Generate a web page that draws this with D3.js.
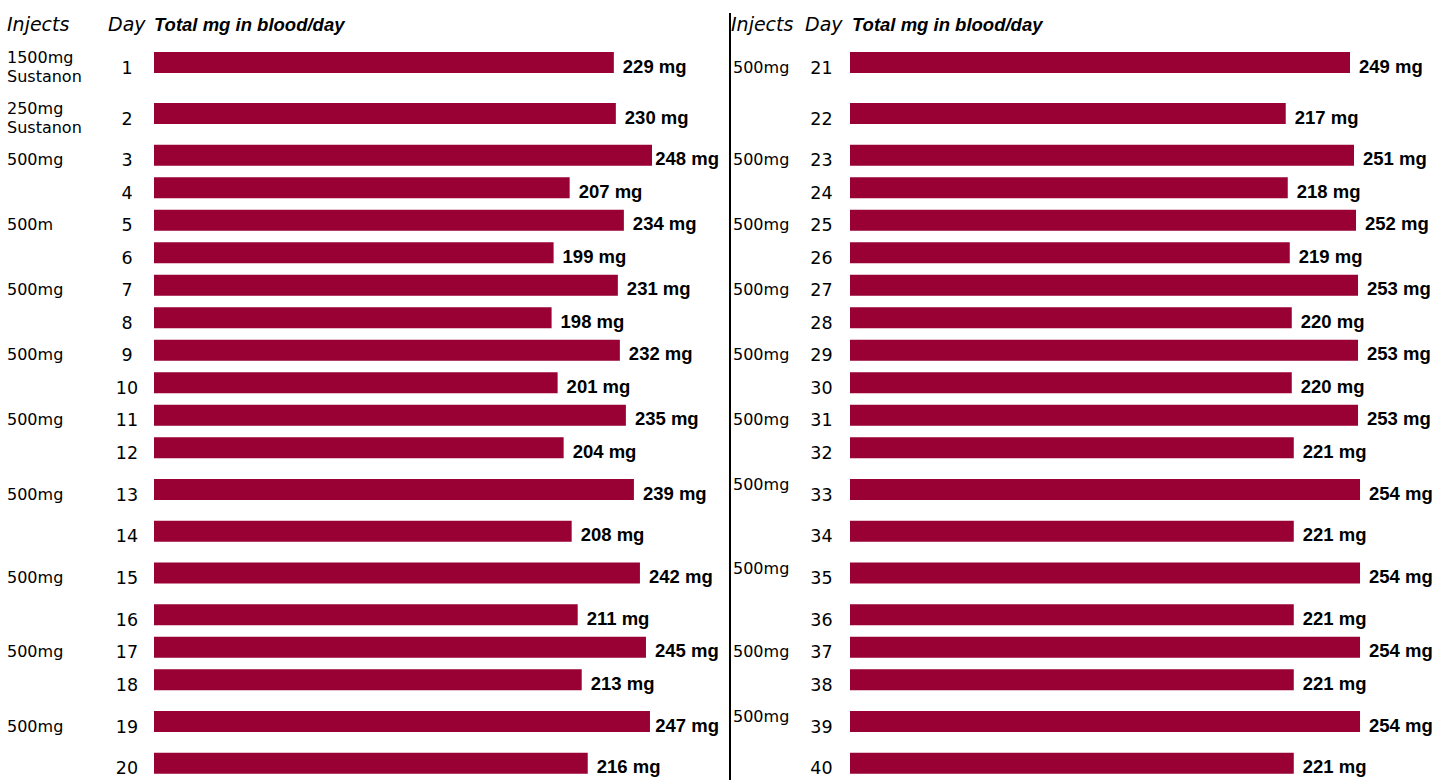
<!DOCTYPE html>
<html>
<head>
<meta charset="utf-8">
<script src="https://cdn.jsdelivr.net/npm/d3@7"></script>
<style>
  body { margin: 0; background: #fff; }
  svg { display: block; }
</style>
</head>
<body>
<div id="chart"></div>
<script>
const width = 1450;
const height = 780;

// Day numbers, one per bar
const days = [
  1, 2, 3, 4, 5, 6, 7, 8, 9, 10, 11, 12, 13, 14, 15, 16, 17, 18, 19, 20,
  21, 22, 23, 24, 25, 26, 27, 28, 29, 30, 31, 32, 33, 34, 35, 36, 37, 38, 39, 40
];

// Total mg in blood per day
const totals = [
  229, 230, 248, 207, 234, 199, 231, 198, 232, 201, 235, 204, 239, 208, 242, 211, 245, 213, 247, 216,
  249, 217, 251, 218, 252, 219, 253, 220, 253, 220, 253, 221, 254, 221, 254, 221, 254, 221, 254, 221
];

// Injection notes per day (each entry is a list of text lines)
const injects = [
  ["1500mg", "Sustanon"], ["250mg", "Sustanon"], ["500mg"], [], ["500m"], [], ["500mg"], [], ["500mg"], [],
  ["500mg"], [], ["500mg"], [], ["500mg"], [], ["500mg"], [], ["500mg"], [],
  ["500mg"], [], ["500mg"], [], ["500mg"], [], ["500mg"], [], ["500mg"], [],
  ["500mg"], [], ["500mg", ""], [], ["500mg", ""], [], ["500mg"], [], ["500mg", ""], []
];

const headers = ["Injects", "Day", "Total mg in blood/day"];

// the two halves of the table
const panels = [
  {start: 0,  injX: 7,   headInjX: 7,   dayX: 127,   headDayX: 108, barX: 154, headTotX: 154, right: 719},
  {start: 20, injX: 733, headInjX: 731, dayX: 821.5, headDayX: 805, barX: 850, headTotX: 852, right: 1445}
];
const rowsPerPanel = 20;

const svg = d3.select("#chart")
    .append("svg")
    .attr("width", width)
    .attr("height", height);

// bar length scale
const x = d3.scaleLinear()
    .domain([0, 250])
    .range([0, 502]);

// rows holding a two-line note (on either side) are taller
const rowIdx = d3.range(rowsPerPanel);
const rowH = rowIdx.map(i =>
    (injects[i].length > 1 || injects[i + rowsPerPanel].length > 1) ? 51 : 32.5);
const tops = [37];
rowH.forEach((h, i) => tops.push(tops[i] + h));
const yCenter = d3.scaleOrdinal()
    .domain(rowIdx)
    .range(rowIdx.map(i => tops[i] + rowH[i] / 2));
const barH = 21;

const regular = "'DejaVu Sans', sans-serif";
const bold = "'Liberation Sans', Arial, sans-serif";

// divider between the halves
svg.append("line")
    .attr("x1", 730).attr("x2", 730)
    .attr("y1", 13).attr("y2", height)
    .attr("stroke", "#000")
    .attr("stroke-width", 2);

panels.forEach(p => {
    const g = svg.append("g");

    // column headers
    g.append("text")
        .attr("x", p.headInjX).attr("y", 30.5)
        .style("font-family", regular).style("font-style", "italic").style("font-size", "19px")
        .text(headers[0]);
    g.append("text")
        .attr("x", p.headDayX).attr("y", 30.5)
        .style("font-family", regular).style("font-style", "italic").style("font-size", "19px")
        .text(headers[1]);
    g.append("text")
        .attr("x", p.headTotX).attr("y", 30.5)
        .style("font-family", bold).style("font-style", "italic").style("font-weight", "bold")
        .style("font-size", "18.5px")
        .text(headers[2]);

    const rows = rowIdx.map(i => ({
        row: i,
        day: days[p.start + i],
        total: totals[p.start + i],
        note: injects[p.start + i]
    }));

    // bars
    g.selectAll("rect")
        .data(rows)
        .join("rect")
        .attr("x", p.barX)
        .attr("y", d => yCenter(d.row) - barH / 2)
        .attr("width", d => x(d.total))
        .attr("height", barH)
        .attr("fill", "#990033");

    // value labels, pulled back if they would run past the panel edge
    g.selectAll("text.val")
        .data(rows)
        .join("text")
        .attr("class", "val")
        .attr("y", d => yCenter(d.row) + 10)
        .style("font-family", bold).style("font-weight", "bold").style("font-size", "18.5px")
        .text(d => d.total + " mg")
        .attr("x", function(d) {
            const w = this.getComputedTextLength();
            return Math.min(p.barX + x(d.total) + 9, p.right - w);
        });

    // day numbers
    g.selectAll("text.day")
        .data(rows)
        .join("text")
        .attr("class", "day")
        .attr("x", p.dayX)
        .attr("y", d => yCenter(d.row) + 11)
        .attr("text-anchor", "middle")
        .style("font-family", regular).style("font-size", "17.5px")
        .text(d => d.day);

    // injection notes
    const notes = g.selectAll("text.inj")
        .data(rows.filter(d => d.note.length))
        .join("text")
        .attr("class", "inj")
        .attr("y", d => yCenter(d.row) + (d.note.length > 1 ? 0.5 : 10))
        .style("font-family", regular).style("font-size", "16px");
    notes.selectAll("tspan")
        .data(d => d.note)
        .join("tspan")
        .attr("x", p.injX)
        .attr("dy", (d, i) => i ? 18.5 : 0)
        .text(d => d);
});
</script>
</body>
</html>
